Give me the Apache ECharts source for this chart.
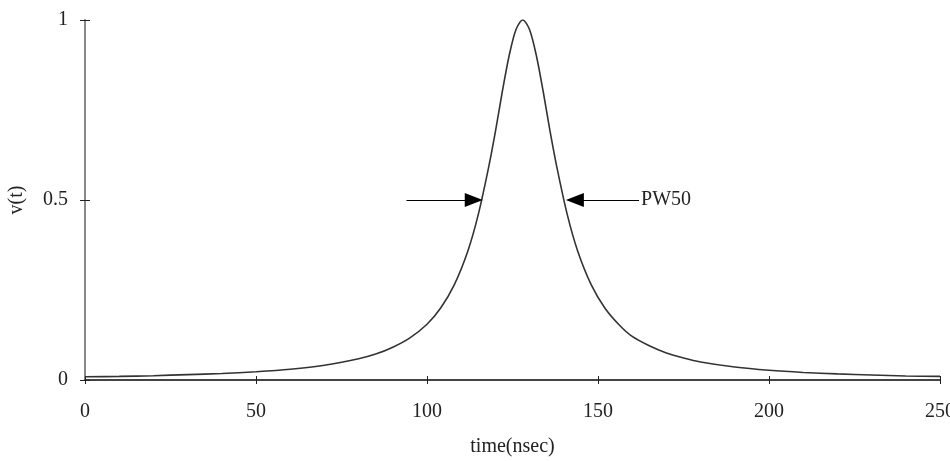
<!DOCTYPE html>
<html>
<head>
<meta charset="utf-8">
<style>
  html, body { margin: 0; padding: 0; background: #fff; }
  #chart { width: 950px; height: 461px; }
</style>
<script src="https://cdn.jsdelivr.net/npm/echarts@6/dist/echarts.min.js"></script>
</head>
<body>
<div id="chart"></div>
<script>
// time samples (nsec) and pulse amplitude
const timeNs = [0, 10, 20, 30, 40, 50, 60, 70, 80, 85, 90, 95, 100, 104, 108, 112, 115, 118, 120, 122, 124, 126, 128,
  130, 132, 134, 136, 138, 141, 144, 148, 152, 156, 160, 165, 170, 175, 180, 190, 200, 210, 220, 230, 240, 250];
const pulse = [0.009, 0.010, 0.012, 0.015, 0.018, 0.023, 0.030, 0.041, 0.059, 0.072, 0.091, 0.117, 0.155, 0.200, 0.265, 0.360, 0.460, 0.590, 0.690, 0.800, 0.900, 0.973, 1.0,
  0.973, 0.900, 0.800, 0.690, 0.590, 0.460, 0.360, 0.265, 0.200, 0.155, 0.121, 0.095, 0.075, 0.061, 0.050, 0.036, 0.027, 0.021, 0.017, 0.014, 0.011, 0.010];

// PW50 annotation: arrows at half amplitude (tail, tip)
const halfLevel = 0.5;
const leftArrow = [94, 116.3];
const rightArrow = [162, 140.6];
const pwLabel = 'PW50';

const font = 'Liberation Serif';
const fs = 20;

const gridLeft = 85, gridRight = 10;
const headLen = 18;
// triangle symbol is centred on the line end, so pull the end back by half a head
const pxPerNs = (950 - gridLeft - gridRight) / 250;
const headShift = headLen / 2 / pxPerNs;

const chart = echarts.init(document.getElementById('chart'));

const baseX = { type: 'value', min: 0, max: 250, interval: 50 };
const baseY = { type: 'value', min: 0, max: 1, interval: 0.5 };

const option = {
  animation: false,
  backgroundColor: '#fff',
  grid: { left: gridLeft, right: gridRight, top: 20, bottom: 81, containLabel: false, outerBoundsMode: 'none' },
  xAxis: [
    Object.assign({}, baseX, {
      name: 'time(nsec)',
      nameLocation: 'middle',
      nameGap: 57,
      nameTextStyle: { fontFamily: font, fontSize: fs, color: '#222' },
      axisLine: { lineStyle: { color: '#444', width: 2 } },
      axisTick: { show: true, length: 4, lineStyle: { color: '#222' } },
      axisLabel: { fontFamily: font, fontSize: fs, color: '#222', margin: 22 },
      splitLine: { show: false }
    }),
    Object.assign({}, baseX, {
      position: 'bottom',
      axisLine: { show: false },
      axisTick: { show: true, inside: true, length: 4, lineStyle: { color: '#222' } },
      axisLabel: { show: false },
      splitLine: { show: false }
    })
  ],
  yAxis: [
    Object.assign({}, baseY, {
      name: 'v(t)',
      nameLocation: 'middle',
      nameRotate: 90,
      nameGap: 58,
      nameTextStyle: { fontFamily: font, fontSize: fs, color: '#222' },
      axisLine: { show: true, lineStyle: { color: '#888', width: 2 } },
      axisTick: { show: true, length: 5, lineStyle: { color: '#222' } },
      axisLabel: { fontFamily: font, fontSize: fs, color: '#222', margin: 17 },
      splitLine: { show: false }
    }),
    Object.assign({}, baseY, {
      position: 'left',
      axisLine: { show: false },
      axisTick: { show: true, inside: true, length: 5, lineStyle: { color: '#222' } },
      axisLabel: { show: false },
      splitLine: { show: false }
    })
  ],
  series: [
    {
      type: 'line',
      data: timeNs.map((t, i) => [t, pulse[i]]),
      smooth: 0.3,
      showSymbol: false,
      lineStyle: { color: '#333', width: 1.6 },
      markLine: {
        silent: true,
        symbol: ['none', 'triangle'],
        symbolSize: [14, headLen],
        lineStyle: { color: '#000', width: 1.2, type: 'solid' },
        label: { show: false },
        data: [
          [
            { coord: [leftArrow[0], halfLevel] },
            { coord: [leftArrow[1] - headShift, halfLevel] }
          ],
          [
            {
              coord: [rightArrow[0], halfLevel],
              label: {
                show: true,
                position: 'start',
                formatter: pwLabel,
                fontFamily: font,
                fontSize: fs,
                color: '#222',
                distance: 2
              }
            },
            { coord: [rightArrow[1] + headShift, halfLevel] }
          ]
        ]
      }
    }
  ]
};

chart.setOption(option);
</script>
</body>
</html>
